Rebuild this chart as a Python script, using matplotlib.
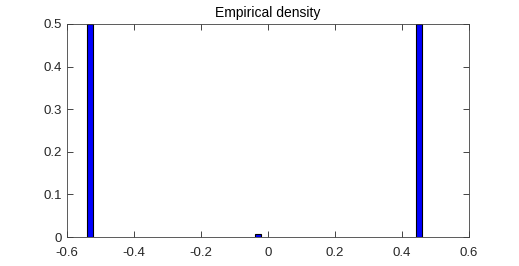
import matplotlib
matplotlib.use("Agg")
import matplotlib.pyplot as plt
import numpy as np

# bin centres and empirical density values
centers = [-0.531, -0.030, 0.451]
density = [0.5, 0.008, 0.5]
bin_width = 0.018

xticks = [-0.6, -0.4, -0.2, 0, 0.2, 0.4, 0.6]
yticks = [0, 0.1, 0.2, 0.3, 0.4, 0.5]

plt.rcParams["font.family"] = ["Liberation Sans", "DejaVu Sans"]

fig = plt.figure(figsize=(5.19, 2.66), dpi=100)
ax = fig.add_axes([0.129, 0.109, 0.775, 0.801])

ax.bar(centers, density, width=bin_width, color="#0000ff", edgecolor="black", linewidth=0.8)

ax.set_xlim(-0.6, 0.6)
ax.set_ylim(0, 0.5)
ax.set_xticks(xticks)
ax.set_xticklabels(["-0.6", "-0.4", "-0.2", "0", "0.2", "0.4", "0.6"])
ax.set_yticks(yticks)
ax.set_yticklabels(["0", "0.1", "0.2", "0.3", "0.4", "0.5"])
ax.tick_params(direction="in", top=True, right=True, length=4, width=0.6,
               labelsize=9.5, colors="#262626")
ax.tick_params(axis="x", pad=7.5)
ax.tick_params(axis="y", pad=3.5)
for s in ax.spines.values():
    s.set_color("#404040")
    s.set_linewidth(0.6)
ax.set_title("Empirical density", fontsize=10, pad=5)

fig.savefig("out.png", dpi=100)
